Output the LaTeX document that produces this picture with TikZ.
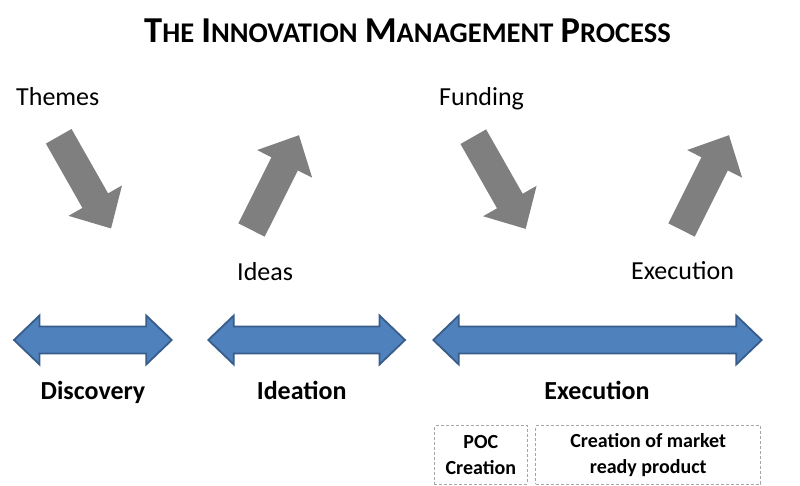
\documentclass[tikz,border=0pt]{standalone}
\usepackage{fontspec}
\setmainfont{Carlito}
\definecolor{arrowgray}{HTML}{7F7F7F}
\definecolor{bluefill}{HTML}{4F81BD}
\definecolor{blueline}{HTML}{385D8A}
\definecolor{dashgray}{HTML}{A6A6A6}
\newcommand\bigc[1]{{\fontsize{36.5}{40}\selectfont #1}}
\newcommand\smc[1]{{\fontsize{28.5}{40}\selectfont #1}}
\newcommand\grayarr[3]{%
  \begin{scope}[shift={(#1)},rotate=#2]
    \fill[arrowgray] (0,-14.75) -- ({#3-32},-14.75) -- ({#3-32},-30.75) -- (#3,0)
      -- ({#3-32},30.75) -- ({#3-32},14.75) -- (0,14.75) -- cycle;
  \end{scope}}
\newcommand\bluearr[2]{%
  \filldraw[bluearrow] (#1,340) -- ({#1+25.5},315.5) -- ({#1+25.5},326.5) -- ({#2-25.5},326.5)
    -- ({#2-25.5},315.5) -- (#2,340) -- ({#2-25.5},364.5) -- ({#2-25.5},353.5)
    -- ({#1+25.5},353.5) -- ({#1+25.5},364.5) -- cycle;}
\begin{document}
\begin{tikzpicture}[x=1pt,y=-1pt,
  bluearrow/.style={fill=bluefill,draw=blueline,line width=1.8pt,line join=miter},
  lbl/.style={font=\fontsize{26}{31}\selectfont,inner sep=0pt},
  phase/.style={font=\bfseries\fontsize{26}{31}\selectfont,inner sep=0pt},
  subbox/.style={draw=dashgray,dashed,dash pattern=on 3pt off 2pt,line width=0.9pt,
    align=center,font=\bfseries\fontsize{20}{25.5}\selectfont,inner sep=0pt}]
\useasboundingbox (0,0) rectangle (800,486);
\fill[white] (0,0) rectangle (800,486);
% title
\node[anchor=base,inner sep=0pt,font=\bfseries\fontsize{32}{40}\selectfont] (title) at (407.5,42.5)
  {\bigc{T}\smc{HE} \bigc{I}\smc{NNOVATION} \bigc{M}\smc{ANAGEMENT} \bigc{P}\smc{ROCESS}};
% gray arrows
\grayarr{58.7,136.3}{-60.4}{106}
\grayarr{251.5,230}{63.4}{106}
\grayarr{473.3,136.7}{-60.4}{106}
\grayarr{681.5,230}{63.4}{106}
% arrow labels
\node[lbl,anchor=base west] (themes) at (16,105.5) {Themes};
\node[lbl,anchor=base west] (ideas) at (237,280) {Ideas};
\node[lbl,anchor=base west] (funding) at (439,105.5) {Funding};
\node[lbl,anchor=base west] (exec) at (631,279.5) {Execution};
% blue double arrows
\bluearr{14}{171.7}
\bluearr{208.3}{405}
\bluearr{433.3}{761.7}
% phase labels
\node[phase,anchor=base] (discovery) at (93,399.5) {Discovery};
\node[phase,anchor=base] (ideation) at (301.7,399.5) {Ideation};
\node[phase,anchor=base] (execution) at (597,399.5) {Execution};
% sub boxes
\node[subbox,minimum width=93pt,minimum height=58.3pt] (poc) at (480.8,455) {POC\\Creation};
\node[subbox,minimum width=225pt,minimum height=58.3pt] (market) at (648.2,455) {Creation of market\\ready product};
\end{tikzpicture}
\end{document}
